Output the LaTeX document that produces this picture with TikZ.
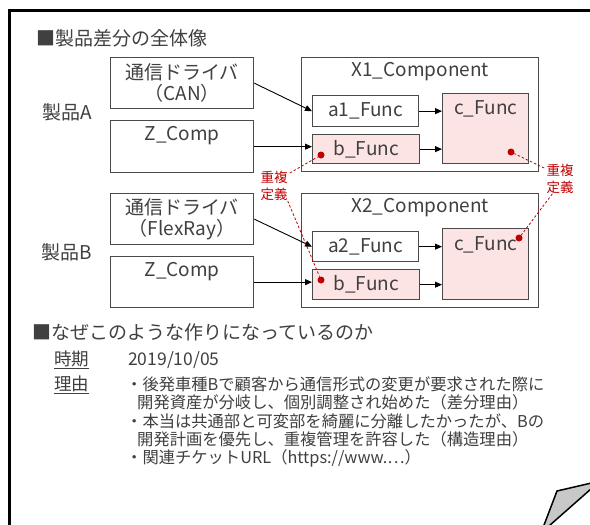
\documentclass[tikz,border=0pt]{standalone}
\usepackage{fontspec}
\setmainfont{Noto Sans CJK JP}
\usetikzlibrary{arrows.meta,calc}
\definecolor{txtc}{HTML}{404040}
\definecolor{edgec}{HTML}{4A4A4A}
\definecolor{pinkf}{HTML}{FCE4E4}
\definecolor{redc}{HTML}{C00000}
\definecolor{foldc}{HTML}{C8C8C8}
\begin{document}
\begin{tikzpicture}[x=1pt,y=-1pt,
  box/.style={draw=edgec,line width=1.3pt,anchor=north west,inner sep=0pt,text=txtc,align=center,font=\fontsize{19}{21}\selectfont},
  pbox/.style={box,fill=pinkf},
  lbl/.style={text=txtc,inner sep=0pt,font=\fontsize{19}{21}\selectfont},
  head/.style={text=txtc,inner sep=0pt,anchor=west,font=\fontsize{19}{21}\selectfont},
  body/.style={text=txtc,inner sep=0pt,anchor=west,font=\fontsize{16.3}{18}\selectfont},
  key/.style={text=txtc,inner sep=0pt,anchor=west,font=\fontsize{17.5}{19}\selectfont},
  redlbl/.style={text=redc,inner sep=0pt,align=center,font=\fontsize{13.5}{17}\selectfont},
  arr/.style={draw=black,line width=0.9pt,-{Triangle[length=7pt,width=6pt]}},
  rdash/.style={draw=redc,line width=0.8pt,dash pattern=on 2.5pt off 2pt},
  rdot/.style={circle,fill=redc,inner sep=0pt,minimum size=7pt}]
\useasboundingbox (0,0) rectangle (590,525);
\clip (0,0) rectangle (590,525);
\fill[white] (0,0) rectangle (590,525);
% outer frame
\draw[line width=2.5pt] (9.5,535) -- (9.5,10.5) -- (600,10.5);
\filldraw[fill=foldc,draw=black,line width=1.5pt] (557,491) -- (600,481) -- (541,533) -- cycle;

\node[head] (t1) at (36,38) {■製品差分の全体像};

% product A
\node[lbl] (pa) at (67,112) {製品A};
\node[box,minimum width=143pt,minimum height=51pt] (can) at (110,57) {通信ドライバ\\（CAN）};
\node[box,minimum width=143pt,minimum height=52pt] (za) at (110,120) {};
\node[lbl] (zat) at ($(za.north)+(0,16)$) {Z\_Comp};
\node[box,minimum width=237pt,minimum height=114pt] (x1) at (301,57) {};
\node[lbl] (x1t) at ($(x1.north)+(0,15)$) {X1\_Component};
\node[box,minimum width=106pt,minimum height=31pt] (a1) at (312,95) {a1\_Func};
\node[pbox,minimum width=107pt,minimum height=29pt] (b1) at (312,134) {b\_Func};
\node[pbox,minimum width=86pt,minimum height=70pt] (c1) at (442,93) {};
\node[lbl] (c1t) at ($(c1.north)+(0,16)$) {c\_Func};
\draw[arr] (can.east) -- (a1.west);
\draw[arr] (za.east) -- (za.east -| b1.west);
\draw[arr] (a1.east) -- (a1.east -| c1.west);
\draw[arr] (b1.east) -- (b1.east -| c1.west);

% product B
\node[lbl] (pb) at (67,252) {製品B};
\node[box,minimum width=143pt,minimum height=51pt] (fr) at (110,193) {通信ドライバ\\（FlexRay）};
\node[box,minimum width=143pt,minimum height=51pt] (zb) at (110,256) {};
\node[lbl] (zbt) at ($(zb.north)+(0,16)$) {Z\_Comp};
\node[box,minimum width=237pt,minimum height=114pt] (x2) at (301,193) {};
\node[lbl] (x2t) at ($(x2.north)+(0,15)$) {X2\_Component};
\node[box,minimum width=106pt,minimum height=30pt] (a2) at (312,231) {a2\_Func};
\node[pbox,minimum width=107pt,minimum height=30pt] (b2) at (312,269) {b\_Func};
\node[pbox,minimum width=86pt,minimum height=71pt] (c2) at (442,228) {};
\node[lbl] (c2t) at ($(c2.north)+(0,17)$) {c\_Func};
\draw[arr] (fr.east) -- (a2.west);
\draw[arr] (zb.east) -- (zb.east -| b2.west);
\draw[arr] (a2.east) -- (a2.east -| c2.west);
\draw[arr] (b2.east) -- (b2.east -| c2.west);

% duplicate markers
\node[rdot] (d1) at (321,155) {};
\node[rdot] (d2) at (511,152) {};
\node[rdot] (d3) at (321,280) {};
\node[rdot] (d4) at (519,238) {};
\node[redlbl] (rl) at (274,186) {重複\\定義};
\node[redlbl] (rr) at (560,179) {重複\\定義};
\draw[rdash] ($(rl.north east)+(2,2)$) -- (d1);
\draw[rdash] ($(rl.south east)+(0,0)$) -- (d3);
\draw[rdash] ($(rr.north west)+(-2,4)$) -- (d2);
\draw[rdash] ($(rr.south west)+(6,0)$) -- (d4);

% explanation
\node[head] (t2) at (32,332) {■なぜこのような作りになっているのか};
\node[key] (k1) at (54,360) {\underline{時期}};
\node[key] (k1v) at (128,360) {2019/10/05};
\node[key] (k2) at (54,385) {\underline{理由}};
\node[body] (l1) at (126,384) {・後発車種Bで顧客から通信形式の変更が要求された際に};
\node[body] (l2) at (137,402.5) {開発資産が分岐し、個別調整され始めた（差分理由）};
\node[body] (l3) at (126,421) {・本当は共通部と可変部を綺麗に分離したかったが、Bの};
\node[body] (l4) at (137,439.5) {開発計画を優先し、重複管理を許容した（構造理由）};
\node[body] (l5) at (126,458) {・関連チケットURL（https://www.⋯）};
\end{tikzpicture}
\end{document}
